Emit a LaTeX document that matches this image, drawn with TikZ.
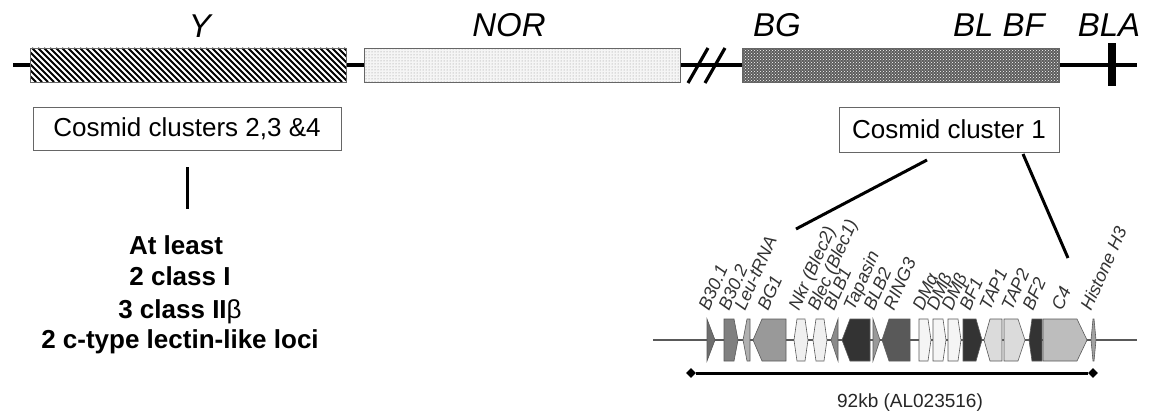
\documentclass[tikz,border=0pt]{standalone}
\usepackage{fontspec}
\setmainfont{Liberation Sans}
\usetikzlibrary{patterns,shapes.geometric}

% gene glyphs: x-start, x-end, arrow tip length, fill colour
\newcommand\geneR[4]{\filldraw[gene, fill=#4] (#1,319) -- ({#2-#3},319) -- (#2,340) -- ({#2-#3},361) -- (#1,361) -- cycle;}
\newcommand\geneL[4]{\filldraw[gene, fill=#4] (#1,340) -- ({#1+#3},319) -- (#2,319) -- (#2,361) -- ({#1+#3},361) -- cycle;}
\newcommand\geneB[4]{\filldraw[gene, fill=#4] (#1,340) -- ({#1+#3},319) -- ({#2-#3},319) -- (#2,340) -- ({#2-#3},361) -- ({#1+#3},361) -- cycle;}

\begin{document}
\begin{tikzpicture}[x=1pt,y=-1pt,
  chrom/.style={line width=3.2pt},
  region/.style={draw=black!60, line width=0.8pt},
  toplabel/.style={font=\fontsize{33}{36}\selectfont\itshape, anchor=base, inner sep=0},
  cosmid/.style={draw=black!60, line width=0.9pt, font=\fontsize{26}{30}\selectfont, inner sep=0, align=center},
  locus/.style={font=\fontsize{26}{31}\selectfont\bfseries, anchor=base, inner sep=0},
  glabel/.style={font=\fontsize{18}{20}\selectfont\itshape, text=black!80, rotate=66, anchor=base west, inner sep=0},
  gene/.style={draw=black!65, line width=0.6pt},
  zoomline/.style={line width=3pt},
  endmark/.style={diamond, fill=black, inner sep=0, minimum size=10pt},
]
\useasboundingbox (0,0) rectangle (1151,412);

% ---------- chromosome overview ----------
\draw[chrom] (13,65) -- (1137,65);
% Y region: diagonal hatching
\begin{scope}
  \clip (30,48) rectangle (346,82);
  \fill[white] (30,48) rectangle (346,82);
  \foreach \i in {-40,-34,...,350} \draw[line width=2.1pt] (\i,48) -- ({\i+34},82);
\end{scope}
\draw[region] (30,48) rectangle (346,82);
% NOR region: light stipple
\fill[black!4] (364,48) rectangle (680,82);
\fill[pattern=dots, pattern color=black!45] (364,48) rectangle (680,82);
\draw[region] (364,48) rectangle (680,82);
% break marks
\draw[chrom] (688,83) -- (708,48);
\draw[chrom] (705,83) -- (725,48);
% BG-BL-BF region: dense dark texture
\fill[black!64] (742,48) rectangle (1059,82);
\fill[pattern=crosshatch dots, pattern color=white] (742,48) rectangle (1059,82);
\draw[region] (742,48) rectangle (1059,82);
% BLA locus
\fill[black] (1108,43) rectangle (1116,86);

\node[toplabel] (lY) at (200,38) {Y};
\node[toplabel] (lNOR) at (509,37) {NOR};
\node[toplabel] (lBG) at (777,37) {BG};
\node[toplabel] (lBLBF) at (999,37) {BL BF};
\node[toplabel] (lBLA) at (1109,37) {BLA};

% ---------- cosmid clusters ----------
\node[cosmid, minimum width=308pt, minimum height=43pt] (c234) at (187,128.5) {Cosmid clusters 2,3 \&4};
\node[cosmid, minimum width=220pt, minimum height=45pt] (c1) at (949,129.5) {Cosmid cluster 1};

\node[locus] (loc1) at (176,254) {At least};
\node[locus] (loc2) at (180,285) {2 class I};
\node[locus] (loc3) at (180,318) {3 class II{\mdseries β}};
\node[locus] (loc4) at (180,348) {2 c-type lectin-like loci};
\draw[zoomline, shorten <=17pt, shorten >=26pt] (c234.south) -- (c234.south |- loc1.north);

\coordinate (z1a) at (927,160);
\coordinate (z1b) at (796,229);
\coordinate (z2a) at (1023,154);
\coordinate (z2b) at (1068,258);
\draw[zoomline] (z1a) -- (z1b);
\draw[zoomline] (z2a) -- (z2b);

% ---------- gene map of cluster 1 ----------
\draw[black!65, line width=1.5pt] (653,340) -- (1137,340);
\geneR{707}{715}{8}{black!57}
\geneR{724}{738}{4}{black!50}
\geneL{743}{750}{4}{black!31}
\geneL{753}{786}{9}{black!40}
\geneB{794}{808}{3}{black!6}
\geneB{813}{827}{3}{black!6}
\geneL{831}{838}{7}{black!46}
\geneL{842}{870}{8}{black!80}
\geneR{873}{880}{7}{black!40}
\geneL{882}{910}{7}{black!65}
\geneR{919}{931}{3}{black!4}
\geneR{933}{946}{3}{black!4}
\geneR{948}{961}{3}{black!4}
\geneR{963}{982}{6}{black!80}
\geneL{984}{1002}{6}{black!14}
\geneR{1004}{1025}{7}{black!14}
\geneL{1029}{1042}{3}{black!80}
\geneR{1043}{1087}{10}{black!26}
\geneB{1091}{1096}{2}{black!37}

\node[glabel] (g1) at (709,312) {B30.1};
\node[glabel] (g2) at (729,312) {B30.2};
\node[glabel] (g3) at (745,312) {Leu-tRNA};
\node[glabel] (g4) at (768,312) {BG1};
\node[glabel] (g5) at (799,312) {Nkr (Blec2)};
\node[glabel] (g6) at (818,312) {Blec (Blec1)};
\node[glabel] (g7) at (834,312) {BLB1};
\node[glabel] (g8) at (854,312) {Tapasin};
\node[glabel] (g9) at (874,312) {BLB2};
\node[glabel] (g10) at (894,312) {RING3};
\node[glabel] (g11) at (923,312) {DMα};
\node[glabel] (g12) at (937,312) {DMβ};
\node[glabel] (g13) at (952,312) {DMβ};
\node[glabel] (g14) at (970,312) {BF1};
\node[glabel] (g15) at (990,312) {TAP1};
\node[glabel] (g16) at (1012,312) {TAP2};
\node[glabel] (g17) at (1033,312) {BF2};
\node[glabel] (g18) at (1062,312) {C4};
\node[glabel] (g19) at (1091,312) {Histone H3};

% scale bar
\node[endmark] (sbL) at (691,373) {};
\node[endmark] (sbR) at (1093,373) {};
\draw[line width=3pt] (sbL) -- (sbR);
\node[font=\fontsize{19}{22}\selectfont, text=black!85, anchor=base, inner sep=0] (kb) at (910,407) {92kb (AL023516)};
\end{tikzpicture}
\end{document}
